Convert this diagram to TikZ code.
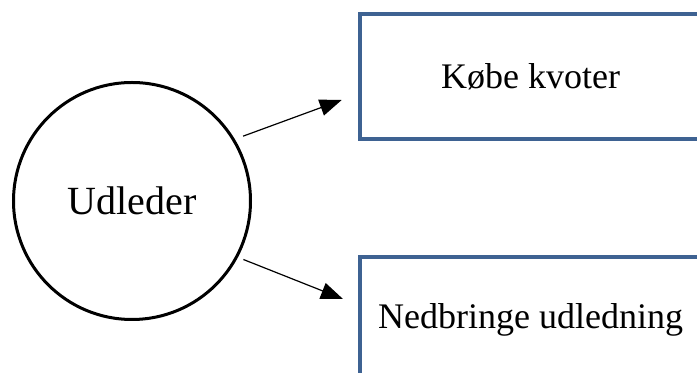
\documentclass[tikz,border=0pt]{standalone}
\usepackage{fontspec}
\setmainfont{Liberation Serif}
\usepackage{xcolor}
\usetikzlibrary{arrows.meta}
\usetikzlibrary{positioning}

\definecolor{kantblaa}{RGB}{62,98,146}

\begin{document}
\begin{tikzpicture}[x={(0.75pt,0)},y={(0,-0.75pt)},
    font=\fontsize{27}{32}\selectfont]
    \path[use as bounding box,clip] (0,0) rectangle (697,373);
    \begin{scope}[every node/.style={draw,inner sep=0pt}]
    \node[circle,line width=2.25pt,minimum size=177.75pt,font=\fontsize{30}{36}\selectfont] (udleder) at (132,201) {Udleder};
    \node[rectangle,draw=kantblaa,line width=3pt,minimum width=300pt,minimum height=93.75pt] (koebe) at (560,76.3) {Købe kvoter\hspace*{44pt}};
    \node[rectangle,draw=kantblaa,line width=3pt,minimum width=300pt,minimum height=93.75pt] (nedbringe) at (560,319.5) {Nedbringe udledning\hspace*{44pt}};
    \end{scope}
    \begin{scope}[every edge/.style={draw=black,line width=0.9pt,-{Triangle[length=16.5pt,width=12.5pt]}}]
    \path (udleder.31) edge[shorten <=6.6pt] ([shift={(-16.3,23.7)}]koebe.west);
    \path (udleder.-28.4) edge[shorten <=4.4pt] ([shift={(-15,-20.5)}]nedbringe.west);
    \end{scope}
\end{tikzpicture}
\end{document}
